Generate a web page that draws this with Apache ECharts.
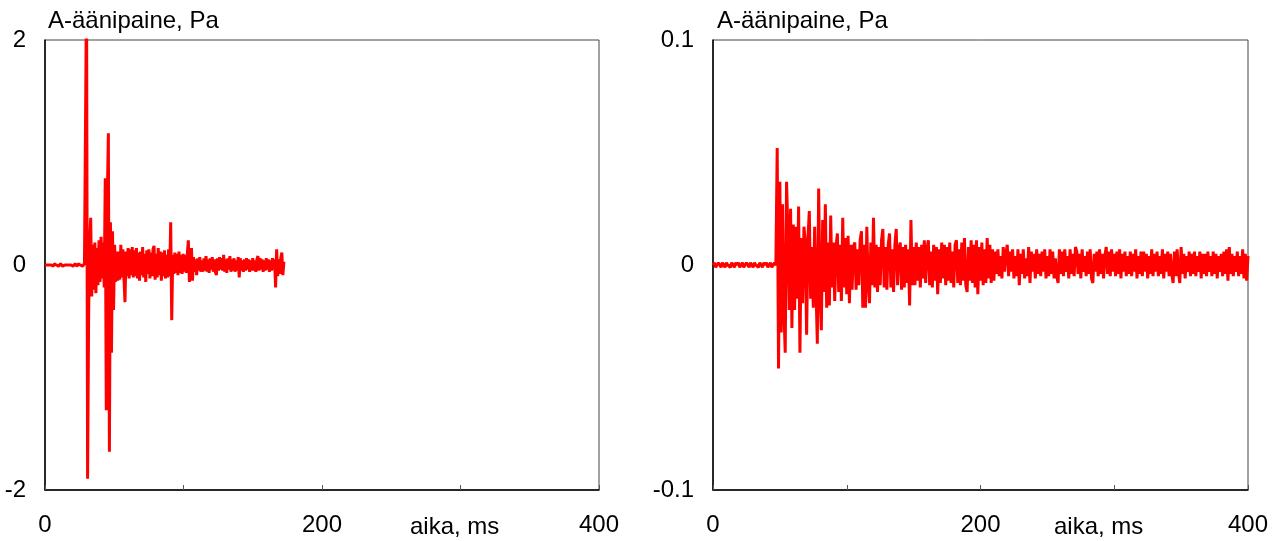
<!DOCTYPE html>
<html>
<head>
<meta charset="utf-8">
<script src="https://cdn.jsdelivr.net/npm/echarts@6/dist/echarts.min.js"></script>
<style>
  html, body { margin: 0; padding: 0; background: #fff; }
  #chart { width: 1277px; height: 541px; }
</style>
</head>
<body>
<div id="chart"></div>
<script>
// sample spacing of the two recordings, ms
var leftDt = 0.75;
var rightDt = 1;

// left recording, values in 0.01 Pa
var leftValues = [
  0,1,0,-1,0,1,0,0,-1,1, 0,0,1,-1,0,1,0,-1,0,0, 1,0,-1,0,1,0,0,-1,0,1, 0,-1,1,0,0,1,-1,0,1,0,
  250,-190,-45,22,42,-28,18,-22,20,-25, 15,-18,22,-15,25,-12,20,-20,77,-129,
  60,117,-166,38,-78,30,-40,18,-15,12, -14,12,-13,18,-11,14,-12,-33,12,-10, 15,-12,14,-9,16,-11,
  13,-10,15,-12,11,-14,12,-9,16,-11, 10,-15,13,-8,14,-12,11,-10,14,17, -13,10,-11,15,-9,12,-14,11,-10,13, -12,9,-11,14,-10,
  38,-49,9,-8,11,-7,10,-9,12,-7, 9,-8,10,-6,9,-7,10,
  22,-15,7,15,-14,
  7,-6,5,-9,6,-5,7,-6,4,-6, 6,-5,8,-6,5,-7,6,-4,7,-6, 5,-6,-9,6,-5,7,-4,6,-5,9, -6,5,-7,6,-4,8,-6,5,-5,6, -6,4,-5,7,
  -11,
  6,-5,4,-6,5,-5,6,-4,5,-6, 4,-5,6,-5,4,-6,5,8,-5,6, -4,5,-6,4,-5,6,-4,5,-6,4, -5,6,-4,5,
  -20,14,-10,5,-8,6,11,-9,3
];

// right recording, values in 0.001 Pa
var rightValues = [
  0,1,-1,0,1,0,-1,1,0,-1, 1,0,0,-1,1,0,-1,1,0,1, -1,0,1,-1,0,1,0,-1,1,0, -1,1,0,0,-1,1,0,-1,1,0, 1,-1,0,1,-1,0,1,0,
  52,-46,37,-30,27,-20,-39,37,15,-20, 25,-28,18,-20,17,-15,26,-39,12,-17, 17,10,-31,12,24,-15,8,-19,17,-10,
  -35,34,-12,-29,20,-12,27,-19,10,-18, 22,-10,10,-16,8,14,-12,9,-16,21, -10,12,
  -13,13,-17,9,-11,8,10,-11,7,-9, 11,15,-19,9,-19,17,-8,-17,10,-9, 21,-10,9,-12,8,-9,11,16,-10,8,
  -11,9,14,-10,7,-12,9,16,-9,7, 10,-11,8,-10,9,-8,7,-18,20,-9, 8,
  -9,10,-7,8,-10,9,-6,11,-8,7, 11,-9,6,-10,9,-7,8,-13,7,-8, 10,-6,9,-9,8,-7,10,-8,6,-10,
  9,11,-8,7,-9,10,-7,12,-9,-12, 8,-7,11,-8,9,-10,11,-13,8,-7, 10,-9,7,-8,12,-6,9,-8,7,-7,
  6,-4,7,-5,4,-6,8,-3,5,9, -5,6,-3,7,-6,4,-5,7,-9,5, -4,7,-6,3,-5,8,-8,6,-3,5,
  -6,7,-4,5,-5,6,-3,7,-6,4, -5,7,-4,6,-6,3,-5,-8,7,-4, 6,-5,7,-3,4,-6,7,-4,5,-5,
  8,6,-4,5,-6,7,-3,4,-5,6, -4,7,-6,-8,5,-3,6,-5,7,-4, 5,-6,4,8,-4,6,-5,7,-3,5,
  -5,6,-4,7,-6,5,-3,6,-5,4, -4,6,-5,5,-3,7,-6,4,-4,6, -5,6,-3,5,-6,4,-4,7,-5,5,
  -3,6,-5,4,-4,7,-6,5,-3,6, -5,5,-4,-8,6,-5,7,-3,-8,8, -4,5,-6,4,-3,6,-5,5,-4,6,
  -5,4,-3,6,-6,5,-4,5,-5,6, -3,4,-5,6,-4,5,-6,4,-3,5, -5,6,-4,7,-7,8,-4,5,-5,4,
  -3,6,-5,4,-4,7,-6,5,-7,4
];

var xTicks = [0, 200, 400];
var yTitle = 'A-äänipaine, Pa';
var xTitle = 'aika, ms';

var leftData = leftValues.map(function (v, i) { return [i * leftDt, v / 100]; });
var rightData = rightValues.map(function (v, i) { return [i * rightDt, v / 1000]; });

var font = 'Liberation Sans, Arial, sans-serif';
var fs = 24;
var red = '#ff0000';

function xAxisFor(idx) {
  return {
    gridIndex: idx, type: 'value', min: 0, max: 400, interval: 100,
    axisLine: { onZero: false, lineStyle: { color: '#000', width: 1.5 } },
    axisTick: { inside: true, length: 5, lineStyle: { color: '#555' } },
    splitLine: { show: false },
    axisLabel: {
      margin: 23, color: '#000', fontSize: fs, fontFamily: font,
      formatter: function (v) { return xTicks.indexOf(v) >= 0 ? String(v) : ''; }
    }
  };
}
function yAxisFor(idx, lim) {
  return {
    gridIndex: idx, type: 'value', min: -lim, max: lim, interval: lim,
    axisLine: { lineStyle: { color: '#000', width: 1.5 } },
    axisTick: { show: false },
    splitLine: { show: false },
    axisLabel: { margin: 19, color: '#000', fontSize: fs, fontFamily: font }
  };
}
function label(text, left, top) {
  return { text: text, left: left, top: top,
    textStyle: { fontSize: fs, fontWeight: 'normal', color: '#000', fontFamily: font } };
}

var chart = echarts.init(document.getElementById('chart'));
chart.setOption({
  animation: false,
  title: [
    label(yTitle, 43, 4),
    label(yTitle, 712, 4),
    label(xTitle, 405, 510),
    label(xTitle, 1049, 510)
  ],
  grid: [
    { left: 45, top: 40, width: 554, height: 450, show: true, borderColor: '#444', borderWidth: 1 },
    { left: 713, top: 40, width: 535, height: 450, show: true, borderColor: '#444', borderWidth: 1 }
  ],
  xAxis: [xAxisFor(0), xAxisFor(1)],
  yAxis: [yAxisFor(0, 2), yAxisFor(1, 0.1)],
  series: [
    { type: 'line', xAxisIndex: 0, yAxisIndex: 0, data: leftData, showSymbol: false, sampling: null,
      lineStyle: { color: red, width: 3 }, itemStyle: { color: red } },
    { type: 'line', xAxisIndex: 1, yAxisIndex: 1, data: rightData, showSymbol: false, sampling: null,
      lineStyle: { color: red, width: 3 }, itemStyle: { color: red } }
  ]
});
</script>
</body>
</html>
